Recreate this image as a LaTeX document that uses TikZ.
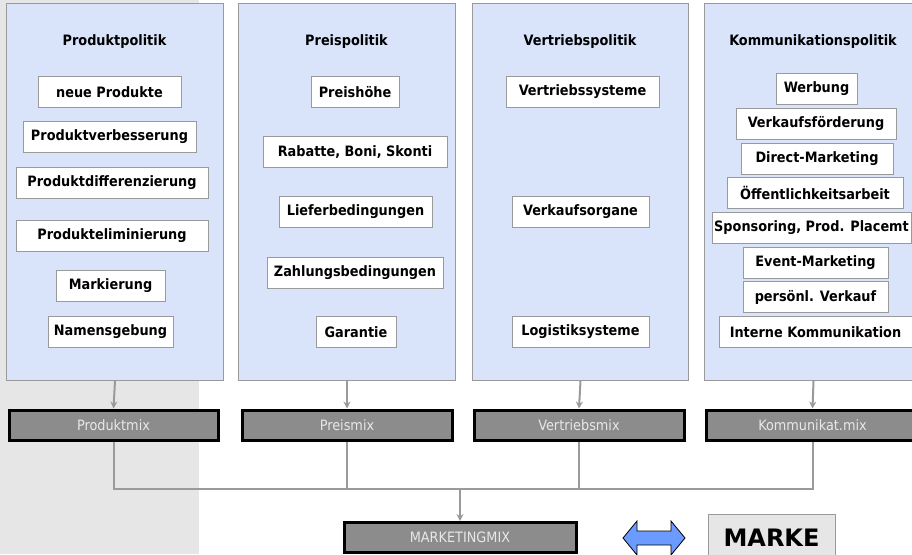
\documentclass[tikz,border=0pt]{standalone}
\usepackage{fontspec}
\usetikzlibrary{shapes.arrows,arrows.meta}
\IfFontExistsTF{DejaVu Sans Condensed}{\newfontfamily\cfont{DejaVu Sans Condensed}}{\newfontfamily\cfont{DejaVu Sans}[Scale=0.9]}
\newfontfamily\wfont{DejaVu Sans}
\definecolor{panelblue}{HTML}{D9E3FA}
\definecolor{panelline}{HTML}{9A9A9A}
\definecolor{leftgray}{HTML}{E6E6E6}
\definecolor{mixgray}{HTML}{8C8C8C}
\definecolor{mixtext}{HTML}{E8E8E8}
\definecolor{connline}{HTML}{9A9A9A}
\definecolor{arrowblue}{HTML}{6B9BFF}
\tikzset{
  panel/.style={draw=panelline, fill=panelblue, line width=1pt, anchor=north west, inner sep=0pt},
  head/.style={font=\cfont\bfseries\fontsize{14.3}{16}\selectfont},
  item/.style={draw=panelline, fill=white, line width=1pt, inner sep=0pt, minimum height=31pt, font=\cfont\bfseries\fontsize{14.3}{16}\selectfont},
  mix/.style={draw=black, fill=mixgray, line width=3pt, inner sep=0pt, minimum height=30pt, text=mixtext, font=\cfont\fontsize{14.3}{16}\selectfont},
  conn/.style={draw=connline, line width=2pt},
  tip/.style={-{Stealth[length=7pt,width=7pt]}}
}
\begin{document}
\begin{tikzpicture}[x=1pt,y=-1pt]
\useasboundingbox (0,0) rectangle (912,554);
\fill[leftgray] (0,0) rectangle (199,554);
% panels
\node[panel, minimum width=217pt, minimum height=377pt] (p1) at (6,3) {};
\node[panel, minimum width=217pt, minimum height=377pt] (p2) at (238,3) {};
\node[panel, minimum width=216pt, minimum height=377pt] (p3) at (472,3) {};
\node[panel, minimum width=218pt, minimum height=377pt] (p4) at (704,3) {};
% headers
\node[head] (h1) at (114.5,42) {Produktpolitik};
\node[head] (h2) at (346.5,42) {Preispolitik};
\node[head] (h3) at (580,42) {Vertriebspolitik};
\node[head] (h4) at (813,42) {Kommunikationspolitik};
% panel 1
\node[item, minimum width=143pt] (a1) at (109.5,92) {neue Produkte};
\node[item, minimum width=173pt] (a2) at (109.5,137) {Produktverbesserung};
\node[item, minimum width=192pt] (a3) at (112,183) {Produktdifferenzierung};
\node[item, minimum width=192pt] (a4) at (112,236) {Produkteliminierung};
\node[item, minimum width=109pt] (a5) at (110.5,286) {Markierung};
\node[item, minimum width=125pt] (a6) at (110.5,332) {Namensgebung};
% panel 2
\node[item, minimum width=88pt] (b1) at (355,92) {Preishöhe};
\node[item, minimum width=184pt] (b2) at (355,152) {Rabatte, Boni, Skonti};
\node[item, minimum width=153pt] (b3) at (355.5,212) {Lieferbedingungen};
\node[item, minimum width=176pt] (b4) at (355,273) {Zahlungsbedingungen};
\node[item, minimum width=80pt] (b5) at (356,332) {Garantie};
% panel 3
\node[item, minimum width=153pt] (c1) at (582.5,92) {Vertriebssysteme};
\node[item, minimum width=137pt] (c2) at (580.5,212) {Verkaufsorgane};
\node[item, minimum width=137pt] (c3) at (580.5,332) {Logistiksysteme};
% panel 4
\node[item, minimum width=81pt] (d1) at (816.5,89) {Werbung};
\node[item, minimum width=160pt] (d2) at (816,123.5) {Verkaufsförderung};
\node[item, minimum width=152pt] (d3) at (817,158.5) {Direct-Marketing};
\node[item, minimum width=176pt] (d4) at (815,193) {Öffentlichkeitsarbeit};
\node[item, minimum width=199pt] (d5) at (811.5,228) {Sponsoring, Prod. Placemt};
\node[item, minimum width=145pt] (d6) at (815.5,262.5) {Event-Marketing};
\node[item, minimum width=145pt] (d7) at (815.5,297) {persönl. Verkauf};
\node[item, minimum width=193pt] (d8) at (815.5,332) {Interne Kommunikation};
% mix boxes
\node[mix, minimum width=209pt] (m1) at (113.5,425) {Produktmix};
\node[mix, minimum width=210pt] (m2) at (347,425) {Preismix};
\node[mix, minimum width=210pt] (m3) at (579,425) {Vertriebsmix};
\node[mix, minimum width=212pt] (m4) at (812.5,425) {Kommunikat.mix};
\node[mix, minimum width=232pt] (mm) at (460,537.5) {MARKETINGMIX};
% arrows panels -> mix
\draw[conn, tip] (p1.south) -- (m1.north);
\draw[conn, tip] (p2.south) -- (m2.north);
\draw[conn, tip] (p3.south) -- (m3.north);
\draw[conn, tip] (p4.south) -- (m4.north);
% bus
\coordinate (j) at (460,489);
\draw[conn] (m1.south) -- (m1.south |- j) -- (m4.south |- j) -- (m4.south);
\draw[conn] (m2.south) -- (m2.south |- j);
\draw[conn] (m3.south) -- (m3.south |- j);
\draw[conn, tip] (j) -- (mm.north);
% double arrow and MARKE
\draw[draw=black, line width=0.8pt, fill=arrowblue, line join=miter]
  (623,538) -- (637,521) -- (637,531) -- (671,531) -- (671,521) -- (685,538)
  -- (671,555) -- (671,545) -- (637,545) -- (637,555) -- cycle;
\node[draw=panelline, fill=leftgray, line width=1pt, anchor=north west, minimum width=127pt, minimum height=50pt, inner sep=0pt] (mk) at (708,514) {};
\node[font=\wfont\bfseries\fontsize{24}{28}\selectfont, anchor=base] (mkt) at (771.5,546) {MARKE};
\end{tikzpicture}
\end{document}
